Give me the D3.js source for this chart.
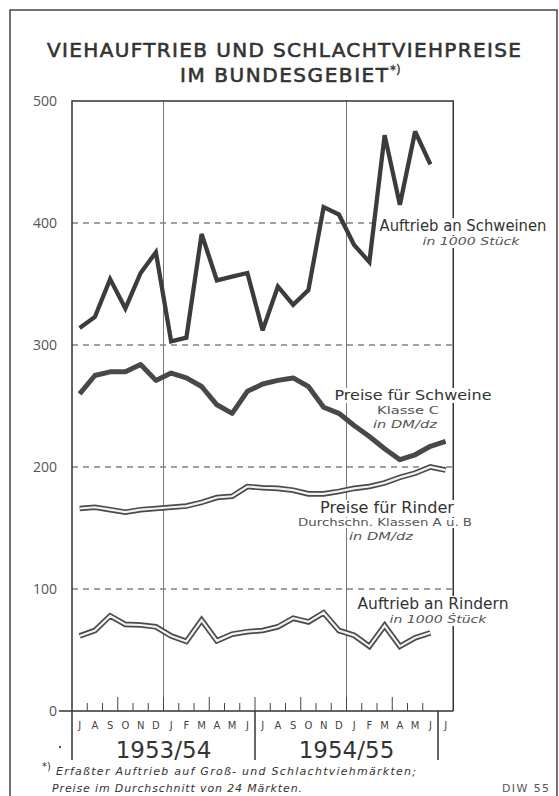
<!DOCTYPE html>
<html>
<head>
<meta charset="utf-8">
<script src="https://cdn.jsdelivr.net/npm/d3@7"></script>
<style>
  body { margin: 0; background: #fff; }
  svg { display: block; }
</style>
</head>
<body>
<div id="chart"></div>
<script>
// Viehauftrieb und Schlachtviehpreise, Juli 1953 - Juli 1955

const width = 559;
const height = 796;

// data
const months = ["J","A","S","O","N","D","J","F","M","A","M","J",
                "J","A","S","O","N","D","J","F","M","A","M","J","J"];
const years = ["1953/54", "1954/55"];
const yTicks = [0, 100, 200, 300, 400, 500];

const auftriebSchweine = [314, 323, 354, 330, 359, 376, 303, 306, 391, 353, 356, 359,
                          312, 348, 333, 345, 413, 407, 382, 368, 472, 415, 475, 448];
const preiseSchweine = [260, 275, 278, 278, 284, 271, 277, 273, 266, 251, 244, 262,
                        268, 271, 273, 266, 249, 244, 234, 225, 215, 206, 210, 217, 221];
const preiseRinder = [166, 167, 165, 163, 165, 166, 167, 168, 171, 175, 176, 184,
                      183, 182.5, 181, 178, 178, 180, 182.5, 184, 187, 191.5, 195, 200, 197.5];
const auftriebRinder = [61.5, 66, 78, 71, 70.5, 69, 61.5, 57, 74.5, 57.5, 63, 65,
                        66, 69, 76, 73, 80.5, 66, 62, 53, 70, 53, 60, 64];

const svg = d3.select("#chart")
  .append("svg")
  .attr("width", width)
  .attr("height", height);

// scales
const x = d3.scaleBand()
  .domain(d3.range(months.length))
  .range([72, 453.25]);

const y = d3.scaleLinear()
  .domain([0, 500])
  .range([711, 101]);

const cx = i => x(i) + x.bandwidth() / 2;
const x0 = x.range()[0], x1 = x.range()[1];

// outer frame of the sheet
svg.append("path")
  .attr("d", "M10,796 L10,10 L557,10 L557,796")
  .attr("fill", "none")
  .attr("stroke", "#444")
  .attr("stroke-width", 1.5);

// title
const title = svg.append("g")
  .attr("font-family", "DejaVu Sans")
  .attr("font-size", 20)
  .attr("fill", "#333")
  .attr("stroke", "#333")
  .attr("stroke-width", 0.6);

title.append("text")
  .attr("x", 284).attr("y", 57)
  .attr("text-anchor", "middle")
  .attr("textLength", 474)
  .text("VIEHAUFTRIEB UND SCHLACHTVIEHPREISE");

title.append("text")
  .attr("x", 284).attr("y", 82)
  .attr("text-anchor", "middle")
  .attr("textLength", 208)
  .text("IM BUNDESGEBIET");

title.append("text")
  .attr("x", 390).attr("y", 74)
  .attr("font-size", 12)
  .attr("stroke-width", 0.3)
  .text("*)");

// y axis labels
svg.append("g")
  .attr("transform", `translate(${x0},0)`)
  .call(d3.axisLeft(y).tickValues(yTicks).tickSize(0).tickPadding(15))
  .call(g => g.select(".domain").remove())
  .selectAll("text")
  .attr("font-family", "Open Sans")
  .attr("font-size", 14)
  .attr("fill", "#555");

// dashed grid
svg.selectAll(".grid")
  .data(yTicks.filter(d => d > 0 && d < 500))
  .enter()
  .append("line")
  .attr("class", "grid")
  .attr("x1", x0).attr("x2", x1)
  .attr("y1", d => y(d)).attr("y2", d => y(d))
  .attr("stroke", "#444")
  .attr("stroke-width", 1.2)
  .attr("stroke-dasharray", "6,5");

// year dividers (January)
svg.selectAll(".jan")
  .data([6, 18])
  .enter()
  .append("line")
  .attr("x1", d => x(d)).attr("x2", d => x(d))
  .attr("y1", y(500)).attr("y2", y(0))
  .attr("stroke", "#777")
  .attr("stroke-width", 1);

// frame of plot
svg.append("path")
  .attr("d", `M${x0},760 L${x0},${y(500)} L${x1},${y(500)} L${x1},${y(0)}`)
  .attr("fill", "none")
  .attr("stroke", "#333")
  .attr("stroke-width", 1.5);

// baseline
svg.append("line")
  .attr("x1", 59).attr("x2", x1)
  .attr("y1", y(0)).attr("y2", y(0))
  .attr("stroke", "#333")
  .attr("stroke-width", 1.5);

// month ticks
svg.selectAll(".mtick")
  .data(d3.range(1, 24))
  .enter()
  .append("line")
  .attr("x1", d => x(d)).attr("x2", d => x(d))
  .attr("y1", y(0)).attr("y2", d => y(0) - (d % 3 === 0 ? 14 : 8))
  .attr("stroke", "#444")
  .attr("stroke-width", 1);

// season brackets below axis
svg.selectAll(".bracket")
  .data([12, 24])
  .enter()
  .append("line")
  .attr("x1", d => x(d)).attr("x2", d => x(d))
  .attr("y1", y(0)).attr("y2", 760)
  .attr("stroke", "#333")
  .attr("stroke-width", 1.5);

// month letters
svg.selectAll(".month")
  .data(months)
  .enter()
  .append("text")
  .attr("x", (d, i) => cx(i))
  .attr("y", 729)
  .attr("text-anchor", "middle")
  .attr("font-family", "DejaVu Sans")
  .attr("font-size", 10)
  .attr("fill", "#444")
  .text(d => d);

// years
svg.selectAll(".year")
  .data(years)
  .enter()
  .append("text")
  .attr("x", (d, i) => (x(i * 12) + x(i * 12 + 12)) / 2)
  .attr("y", 758)
  .attr("text-anchor", "middle")
  .attr("font-family", "DejaVu Sans")
  .attr("font-size", 23)
  .attr("fill", "#333")
  .text(d => d);

svg.append("circle").attr("cx", 60).attr("cy", 747).attr("r", 1.2).attr("fill", "#555");

// series labels: [text, center x, baseline y, size, italic, width, colour]
const labels = [
  ["Auftrieb an Schweinen", 463, 231, 15, false, 167, "#333"],
  ["in 1000 Stück", 471, 245, 11, true, 97, "#555"],
  ["Preise für Schweine", 413, 400, 14, false, 157, "#333"],
  ["Klasse C", 408, 414, 10, false, 62, "#555"],
  ["in DM/dz", 405, 428, 11, true, 64, "#555"],
  ["Preise für Rinder", 387, 513, 15, false, 134, "#333"],
  ["Durchschn. Klassen A u. B", 385, 526, 10, false, 174, "#555"],
  ["in DM/dz", 381, 540, 11, true, 64, "#555"],
  ["Auftrieb an Rindern", 433, 609, 15, false, 151, "#333"],
  ["in 1000 Stück", 438, 623, 11, true, 97, "#555"]
];

// white patches behind labels (under the lines)
const labelBg = svg.append("g");

// lines
const line = d3.line()
  .x((d, i) => cx(i))
  .y(d => y(d));

svg.append("path")
  .datum(auftriebSchweine)
  .attr("d", line)
  .attr("fill", "none")
  .attr("stroke", "#3c3c3c")
  .attr("stroke-width", 4.3)
  .attr("stroke-linejoin", "miter")
  .attr("stroke-miterlimit", 3);

svg.append("path")
  .datum(preiseSchweine)
  .attr("d", line)
  .attr("fill", "none")
  .attr("stroke", "#484848")
  .attr("stroke-width", 5)
  .attr("stroke-linejoin", "round");

[preiseRinder, auftriebRinder].forEach(s => {
  svg.append("path")
    .datum(s)
    .attr("d", line)
    .attr("fill", "none")
    .attr("stroke", "#4a4a4a")
    .attr("stroke-width", 5.6)
    .attr("stroke-linejoin", "miter");
  svg.append("path")
    .datum(s)
    .attr("d", line)
    .attr("fill", "none")
    .attr("stroke", "#f2f2f2")
    .attr("stroke-width", 2.2)
    .attr("stroke-linejoin", "miter");
});

labels.forEach(l => {
  const t = svg.append("text")
    .attr("x", l[1]).attr("y", l[2])
    .attr("text-anchor", "middle")
    .attr("font-family", "DejaVu Sans")
    .attr("font-size", l[3])
    .attr("font-style", l[4] ? "italic" : "normal")
    .attr("fill", l[6])
    .attr("textLength", l[5])
    .attr("lengthAdjust", "spacingAndGlyphs")
    .text(l[0]);
  const b = t.node().getBBox();
  labelBg.append("rect")
    .attr("x", b.x - 2).attr("y", b.y + 1)
    .attr("width", b.width + 4).attr("height", b.height - 1)
    .attr("fill", "#fff");
});

// footnote
svg.append("text")
  .attr("x", 42).attr("y", 770)
  .attr("font-family", "DejaVu Sans")
  .attr("font-size", 10)
  .attr("fill", "#333")
  .text("*)");

svg.append("text")
  .attr("x", 56).attr("y", 775)
  .attr("font-family", "DejaVu Sans")
  .attr("font-style", "italic")
  .attr("font-size", 11)
  .attr("fill", "#333")
  .attr("textLength", 360)
  .text("Erfaßter Auftrieb auf Groß- und Schlachtviehmärkten;");

svg.append("text")
  .attr("x", 52).attr("y", 792)
  .attr("font-family", "DejaVu Sans")
  .attr("font-style", "italic")
  .attr("font-size", 11)
  .attr("fill", "#333")
  .attr("textLength", 250)
  .text("Preise im Durchschnitt von 24 Märkten.");

svg.append("text")
  .attr("x", 502).attr("y", 792)
  .attr("font-family", "DejaVu Sans")
  .attr("font-size", 11)
  .attr("fill", "#555")
  .attr("textLength", 47)
  .text("DIW 55");
</script>
</body>
</html>
